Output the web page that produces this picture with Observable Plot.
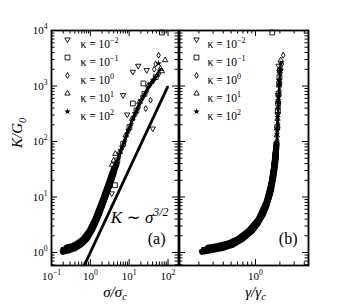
<!DOCTYPE html>
<html><head><meta charset="utf-8">
<script src="https://cdn.jsdelivr.net/npm/d3@7"></script>
<script src="https://cdn.jsdelivr.net/npm/@observablehq/plot@0.6"></script>
<style>
body{margin:0;background:#fff;}
#wrap{position:relative;width:341px;height:307px;overflow:hidden;background:#fff;}
#wrap svg{position:absolute;top:0;}
</style></head><body><div id="wrap"></div>
<script>
// ---- legend / tick labels ----
const kappaLabels = ["κ = 10^{−2}", "κ = 10^{−1}", "κ = 10^{0}", "κ = 10^{1}", "κ = 10^{2}"];
const yMajor = [1, 10, 100, 1000, 10000];
const yTickLabels = ["10^{0}", "10^{1}", "10^{2}", "10^{3}", "10^{4}"];
const xMajorA = [0.1, 1, 10, 100];
const xTickLabelsA = ["10^{−1}", "10^{0}", "10^{1}", "10^{2}"];
const xMajorB = [1];
const xTickLabelsB = ["10^{0}"];

// ---- data: kappa = 1e-2 (down triangles) ----
const sigmaKm2 = [0.195, 0.295, 0.405, 0.55, 0.81, 1.10, 1.64, 2.36, 3.34, 4.72, 6.65, 9.6, 14.4, 22.7, 42];
const gammaKm2 = [0.219, 0.292, 0.389, 0.519, 0.692, 0.923, 1.23, 1.456, 1.616, 1.725, 1.806, 1.849, 1.88, 1.919, 1.967];
const KKm2 = [1.03, 1.11, 1.2, 1.37, 1.75, 2.53, 4.75, 9.6, 19.5, 39, 78, 156, 312, 625, 1250];
const sigmaKm2Extra = [3.55, 6.96, 8.9, 12.4, 17.1, 28.2, 40.5];
const gammaKm2Extra = [1.47, 1.90, 1.88, 1.97, 1.93, 1.99, 1.86];
const KKm2Extra = [11.6, 683, 306, 1800, 2310, 1930, 171];
// kappa = 1e-1 (squares)
const sigmaKm1 = [0.204, 0.307, 0.421, 0.588, 0.840, 1.159, 1.725, 2.481, 3.512, 4.944, 7.011, 10.15, 15.39, 24.73, 48.29];
const gammaKm1 = [0.232, 0.309, 0.412, 0.550, 0.733, 0.977, 1.283, 1.488, 1.638, 1.742, 1.815, 1.856, 1.887, 1.928, 1.975];
const KKm1 = [1.113, 1.192, 1.308, 1.52, 1.989, 2.959, 5.754, 11.48, 22.91, 45.71, 91.2, 182, 363.1, 724.4, 1445];
const sigmaKm1Extra = [4.29, 12.4, 23.3, 69.6];
const gammaKm1Extra = [1.57, 1.90, 1.96, 1.61];
const KKm1Extra = [16.3, 484, 1110, 9200];
// kappa = 1e0 (diamonds)
const sigmaK0 = [0.230, 0.344, 0.468, 0.670, 0.932, 1.30, 1.95, 2.80, 3.95, 5.56, 7.93, 11.5, 17.6, 29.0, 58.4];
const gammaK0 = [0.250, 0.334, 0.445, 0.594, 0.792, 1.056, 1.35, 1.55, 1.69, 1.79, 1.86, 1.90, 1.93, 1.98, 2.02];
const KK0 = [1.128, 1.208, 1.336, 1.59, 2.127, 3.258, 6.607, 13.18, 26.3, 52.48, 104.7, 208.9, 416.9, 831.8, 1660];
const sigmaK0Extra = [57.2, 26.6, 35.5, 48, 44];
const gammaK0Extra = [2.20, 1.89, 1.91, 2.12, 2.08];
const KK0Extra = [3590, 393, 555, 2500, 2000];
// kappa = 1e1 (up triangles)
const sigmaK1 = [0.2438, 0.354, 0.4688, 0.6776, 0.9419, 1.346, 1.989, 2.860, 4.027, 5.668, 8.130, 11.86, 18.31, 31.18, 63.68];
const gammaK1 = [0.260, 0.3467, 0.4624, 0.6166, 0.8222, 1.096, 1.366, 1.554, 1.683, 1.776, 1.832, 1.868, 1.903, 1.948, 1.991];
const KK1 = [1.22, 1.31, 1.46, 1.78, 2.44, 4.0, 8.1, 16.2, 32.3, 64.5, 129, 257, 512, 1020, 2040];
const sigmaK1Extra = [84.1, 69.6, 3.98, 4.4, 3.6];
const gammaK1Extra = [2.05, 1.99, 1.74, 1.77, 1.72];
const KK1Extra = [2920, 1850, 45.5, 60, 38];
// kappa = 1e2 (stars)
const sigmaK2 = [0.2673, 0.375, 0.492, 0.7211, 1.0, 1.469, 2.140, 3.063, 4.312, 6.070, 8.750, 12.94, 19.99, 35.13];
const gammaK2 = [0.2754, 0.3673, 0.4898, 0.6531, 0.871, 1.161, 1.411, 1.587, 1.705, 1.793, 1.840, 1.874, 1.911, 1.958];
const KK2 = [1.16, 1.255, 1.392, 1.738, 2.44, 4.337, 8.71, 17.38, 34.67, 69.18, 138, 275.4, 549.5, 1096];
const sigmaK2Extra = [57.2];
const gammaK2Extra = [2.05];
const KK2Extra = [2540];
// guide line K ~ sigma^{3/2}
const fitSigma = [0.6, 97];
const fitK = [0.465, 955];

// ---- build ----
const triangleDown = {
  draw(context, size) {
    const y = -Math.sqrt(size / (Math.sqrt(3) * 3));
    context.moveTo(0, -y * 2);
    context.lineTo(-Math.sqrt(3) * y, y);
    context.lineTo(Math.sqrt(3) * y, y);
    context.closePath();
  }
};
const rowsOf = (s, g, k) => k.map((v, i) => ({sigma: s[i], gamma: g[i], K: v}));
const series = [
  {band: rowsOf(sigmaKm2, gammaKm2, KKm2), extra: rowsOf(sigmaKm2Extra, gammaKm2Extra, KKm2Extra), symbol: triangleDown, r: 2.0, fill: "none", stroke: "black"},
  {band: rowsOf(sigmaKm1, gammaKm1, KKm1), extra: rowsOf(sigmaKm1Extra, gammaKm1Extra, KKm1Extra), symbol: "square", r: 2.7, fill: "none", stroke: "black"},
  {band: rowsOf(sigmaK0, gammaK0, KK0), extra: rowsOf(sigmaK0Extra, gammaK0Extra, KK0Extra), symbol: "diamond", r: 1.8, fill: "none", stroke: "black"},
  {band: rowsOf(sigmaK1, gammaK1, KK1), extra: rowsOf(sigmaK1Extra, gammaK1Extra, KK1Extra), symbol: "triangle", r: 2.0, fill: "none", stroke: "black"},
  {band: rowsOf(sigmaK2, gammaK2, KK2), extra: rowsOf(sigmaK2Extra, gammaK2Extra, KK2Extra), symbol: "star", r: 2.1, fill: "black", stroke: "none"}
];
const fitRows = fitSigma.map((s, i) => ({sigma: s, K: fitK[i]}));

function minorTicks(dom) {
  const out = [];
  for (let e = -3; e <= 4; e++) for (let m = 2; m <= 9; m++) {
    const v = m * Math.pow(10, e);
    if (v > dom[0] && v < dom[1]) out.push(v);
  }
  return out;
}
function majorTicks(dom) {
  const out = [];
  for (let e = -3; e <= 4; e++) { const v = Math.pow(10, e); if (v >= dom[0] * 0.999 && v <= dom[1] * 1.001) out.push(v); }
  return out;
}
function tickMarks(xd, yd, iw, ih) {
  const L = 6, l = 3.5, o = {stroke: "black", strokeWidth: 1};
  const xM = majorTicks(xd), xm = minorTicks(xd), yM = majorTicks(yd), ym = minorTicks(yd);
  return [
    Plot.tickX(xM, {...o, x: d => d, insetTop: ih - L}),
    Plot.tickX(xm, {...o, x: d => d, insetTop: ih - l}),
    Plot.tickX(xM, {...o, x: d => d, insetBottom: ih - L}),
    Plot.tickX(xm, {...o, x: d => d, insetBottom: ih - l}),
    Plot.tickY(yM, {...o, y: d => d, insetRight: iw - L}),
    Plot.tickY(ym, {...o, y: d => d, insetRight: iw - l}),
    Plot.tickY(yM, {...o, y: d => d, insetLeft: iw - L}),
    Plot.tickY(ym, {...o, y: d => d, insetLeft: iw - l})
  ];
}
function legendMarks(dxSym, dxText) {
  const marks = [];
  series.forEach((s, i) => {
    marks.push(Plot.dot([0], {frameAnchor: "top-left", dx: dxSym, dy: 9 + 18 * i, symbol: s.symbol, r: s.r, fill: s.fill, stroke: s.stroke, strokeWidth: 0.9}));
    marks.push(Plot.text([kappaLabels[i]], {frameAnchor: "top-left", dx: dxText, dy: 9 + 18 * i, textAnchor: "start", fontSize: 11.5}));
  });
  return marks;
}
function dataMarks(xField, bandMax) {
  const m = [];
  series.forEach(s => {
    m.push(Plot.line(s.band, {x: xField, y: "K", stroke: "black", strokeWidth: 1.6, strokeLinecap: "round"}));
    m.push(Plot.line(s.band.filter(d => d.K <= bandMax), {x: xField, y: "K", stroke: "black", strokeWidth: 6, strokeLinecap: "round"}));
  });
  series.forEach(s => {
    m.push(Plot.dot(s.band.concat(s.extra), {x: xField, y: "K", symbol: s.symbol, r: s.r, fill: s.fill, stroke: s.stroke, strokeWidth: 0.9}));
  });
  return m;
}

const yDomain = [0.583, 10000];
const H = 307, MT = 30, MB = 42, IH = H - MT - MB;
const xDomainA = [0.1, 186];
const xDomainB = [0.1153, 4.51];
const style = {fontFamily: "'Liberation Serif', 'DejaVu Serif', serif", fontSize: "11px", background: "transparent", overflow: "visible", color: "black"};

const plotA = Plot.plot({
  width: 179, height: H, marginLeft: 51, marginRight: 1, marginTop: MT, marginBottom: MB,
  x: {type: "log", domain: xDomainA, axis: null},
  y: {type: "log", domain: yDomain, axis: null},
  style,
  marks: [
    ...dataMarks("sigma", 40),
    Plot.line(fitRows, {x: "sigma", y: "K", stroke: "black", strokeWidth: 2.8, clip: true}),
    ...tickMarks(xDomainA, yDomain, 127, IH),
    Plot.frame({stroke: "black", strokeWidth: 1.8}),
    Plot.text(yMajor, {y: d => d, text: (d, i) => yTickLabels[i], frameAnchor: "left", dx: -4, textAnchor: "end", fontSize: 11}),
    Plot.text(xMajorA, {x: d => d, text: (d, i) => xTickLabelsA[i], frameAnchor: "bottom", dy: 14, fontSize: 11}),
    Plot.text(["σ/σ_{c}"], {frameAnchor: "bottom", dy: 31, fontSize: 15, fontStyle: "italic"}),
    Plot.text(["K/G_{0}"], {frameAnchor: "left", dx: -34, rotate: -90, fontSize: 15, fontStyle: "italic"}),
    Plot.text(["K ∼ σ^{3/2}"], {frameAnchor: "bottom-right", dx: -10, dy: -42.4, textAnchor: "end", fontSize: 17, fontStyle: "italic"}),
    Plot.text(["(a)"], {frameAnchor: "bottom-right", dx: -13, dy: -21.4, textAnchor: "end", fontSize: 16}),
    ...legendMarks(16, 29)
  ]
});
const plotB = Plot.plot({
  width: 133, height: H, marginLeft: 1, marginRight: 3, marginTop: MT, marginBottom: MB,
  x: {type: "log", domain: xDomainB, axis: null},
  y: {type: "log", domain: yDomain, axis: null},
  style,
  marks: [
    ...dataMarks("gamma", 100),
    ...tickMarks(xDomainB, yDomain, 129, IH),
    Plot.frame({stroke: "black", strokeWidth: 1.8}),
    Plot.text(xMajorB, {x: d => d, text: (d, i) => xTickLabelsB[i], frameAnchor: "bottom", dy: 14, fontSize: 11}),
    Plot.text(["γ/γ_{c}"], {frameAnchor: "bottom", dx: 11.5, dy: 31, fontSize: 15, fontStyle: "italic"}),
    Plot.text(["(b)"], {frameAnchor: "bottom-right", dx: -11, dy: -21.4, textAnchor: "end", fontSize: 16}),
    ...legendMarks(17, 28)
  ]
});

function rich(root) {
  const ns = "http://www.w3.org/2000/svg";
  root.querySelectorAll("text").forEach(t => {
    const s = t.textContent;
    if (!/[\^_]\{/.test(s)) return;
    const fs = parseFloat(getComputedStyle(t).fontSize) || 12;
    while (t.firstChild) t.removeChild(t.firstChild);
    const re = /([\^_])\{([^}]*)\}/g;
    let last = 0, cur = 0, m;
    const add = (txt, target, small) => {
      if (!txt) return;
      const sp = document.createElementNS(ns, "tspan");
      const dy = target - cur;
      if (dy) sp.setAttribute("dy", dy.toFixed(2));
      if (small) sp.setAttribute("font-size", (fs * 0.7).toFixed(2));
      sp.textContent = txt;
      t.appendChild(sp);
      cur = target;
    };
    while ((m = re.exec(s))) {
      add(s.slice(last, m.index), 0, false);
      add(m[2], m[1] === "^" ? -0.42 * fs : 0.22 * fs, true);
      last = re.lastIndex;
    }
    add(s.slice(last), 0, false);
  });
}
const wrap = document.getElementById("wrap");
plotA.style.left = "0px";
plotB.style.left = "178px";
wrap.append(plotA, plotB);
rich(plotA);
rich(plotB);
</script></body></html>
